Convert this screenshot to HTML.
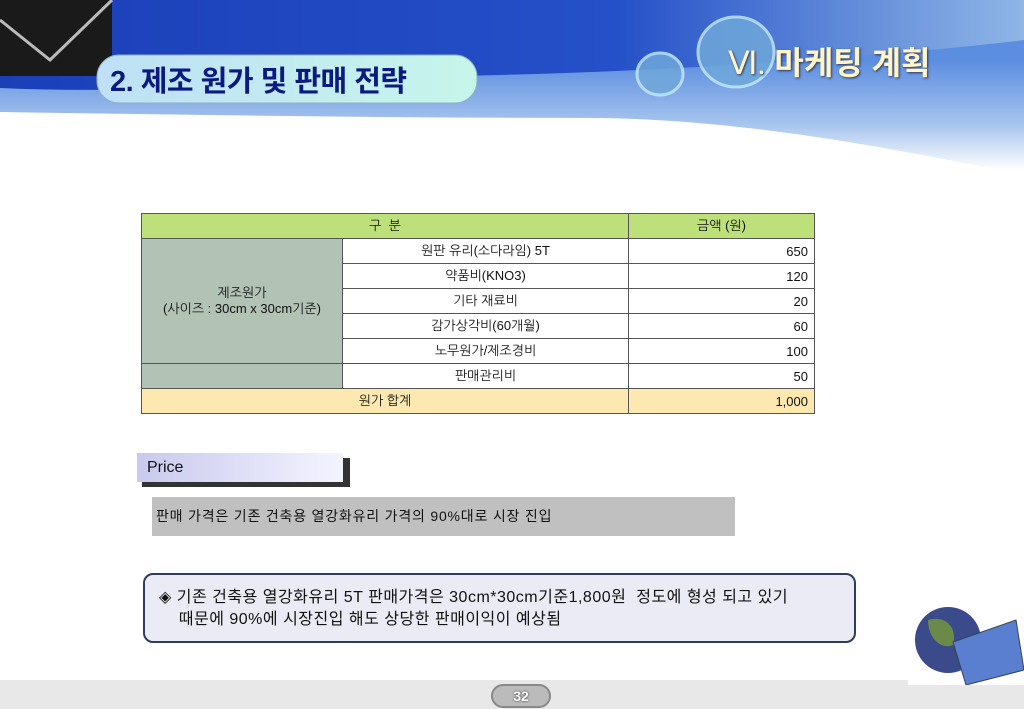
<!DOCTYPE html>
<html><head><meta charset="utf-8">
<style>
body{margin:0;width:1024px;height:709px;position:relative;overflow:hidden;background:#fff;font-family:"Liberation Sans","Noto Sans CJK KR",sans-serif}
.abs{position:absolute}
table{border-collapse:collapse;position:absolute;left:141px;top:213px;width:674px;font-size:13px;font-family:"Liberation Sans","NanumGothic","Noto Sans CJK KR",sans-serif}
td{border:1px solid #555;height:24px;padding:0 6px;text-align:center;color:#111}
td.n{text-align:right}
</style></head><body>
<svg class="abs" style="left:0;top:0" width="1024" height="200">
<defs>
<linearGradient id="g1" x1="0" y1="0" x2="1" y2="0"><stop offset="0" stop-color="#1c3fb8"/><stop offset="0.6" stop-color="#2450c8"/><stop offset="1" stop-color="#8fb6e6"/></linearGradient>
<linearGradient id="g2" gradientUnits="userSpaceOnUse" x1="0" y1="60" x2="0" y2="170"><stop offset="0" stop-color="#5b8de0"/><stop offset="0.6" stop-color="#a9c6ee"/><stop offset="1" stop-color="#ffffff"/></linearGradient>
<linearGradient id="g3" x1="0" y1="0" x2="1" y2="0"><stop offset="0" stop-color="#bfe0f6"/><stop offset="1" stop-color="#c6f6ea"/></linearGradient>
</defs>
<rect width="1024" height="200" fill="#fff"/>
<path d="M0 0H1024V175C900 150 750 120 600 118C400 118 200 115 0 112Z" fill="url(#g2)"/>
<path d="M0 0H1024V40C900 55 700 70 500 75C300 80 150 95 0 88Z" fill="url(#g1)"/>
<path d="M0 112C200 122 400 120 550 132C700 145 850 160 1024 178V200H0Z" fill="#fff"/>
<rect x="0" y="0" width="112" height="76" fill="#1a1a1a"/>
<path d="M0 20L50 60L112 0" stroke="#bbb" stroke-width="3" fill="none"/>
<ellipse cx="736" cy="52" rx="38" ry="35" fill="#6fa8da" stroke="#bfe6ff" stroke-width="3" opacity="0.85"/>
<ellipse cx="660" cy="74" rx="23" ry="21" fill="#6fa8da" stroke="#bfe6ff" stroke-width="3" opacity="0.85"/>
<rect x="97" y="55" width="380" height="48" rx="22" fill="url(#g3)" stroke="#8fb0c8"/>
</svg>
<div class="abs" style="left:110px;top:58px;font-size:29px;font-weight:bold;color:#0a1a80;letter-spacing:-0.5px">2. 제조 원가 및 판매 전략</div>
<div class="abs" style="left:728px;top:38px;font-size:32px;font-weight:bold;color:#fff6c8;text-shadow:1px 1px 2px #335"><span style="font-family:'Liberation Serif',serif;font-weight:normal">Ⅵ.</span> 마케팅 계획</div>

<table>
<tr style="background:#bde07a"><td colspan="2" style="width:474px">구 &nbsp;분</td><td style="width:173px">금액 (원)</td></tr>
<tr><td rowspan="5" style="background:#b2c2b4;width:188px">제조원가<br>(사이즈 : 30cm x 30cm기준)</td><td>원판 유리(소다라임) 5T</td><td class="n">650</td></tr>
<tr><td>약품비(KNO3)</td><td class="n">120</td></tr>
<tr><td>기타 재료비</td><td class="n">20</td></tr>
<tr><td>감가상각비(60개월)</td><td class="n">60</td></tr>
<tr><td>노무원가/제조경비</td><td class="n">100</td></tr>
<tr><td style="background:#b2c2b4"></td><td>판매관리비</td><td class="n">50</td></tr>
<tr style="background:#fde9b0"><td colspan="2">원가 합계</td><td class="n">1,000</td></tr>
</table>

<div class="abs" style="left:142px;top:458px;width:208px;height:29px;background:#333"></div>
<div class="abs" style="left:137px;top:453px;width:206px;height:29px;background:linear-gradient(90deg,#c9c9ee,#f4f4ff);font-size:16px;line-height:29px;padding-left:10px;box-sizing:border-box;color:#111">Price</div>
<div class="abs" style="left:152px;top:497px;width:583px;height:39px;background:#c0c0c0;font-size:14px;letter-spacing:0.8px;line-height:39px;padding-left:4px;box-sizing:border-box;color:#111">판매 가격은 기존 건축용 열강화유리 가격의 90%대로 시장 진입</div>
<div class="abs" style="left:143px;top:573px;width:713px;height:70px;box-sizing:border-box;border:2px solid #2f3d5c;border-radius:10px;background:#ebebf5;font-size:16px;letter-spacing:0.5px;line-height:22px;padding:12px 0 0 14px;color:#111;white-space:nowrap">◈ 기존 건축용 열강화유리 5T 판매가격은 30cm*30cm기준1,800원 &nbsp;정도에 형성 되고 있기<br>&nbsp;&nbsp;&nbsp; 때문에 90%에 시장진입 해도 상당한 판매이익이 예상됨</div>

<div class="abs" style="left:0;top:680px;width:1024px;height:29px;background:#e8e8e8"></div>
<svg class="abs" style="left:908px;top:600px" width="116" height="85">
<rect width="116" height="85" fill="#fff"/>
<circle cx="40" cy="40" r="33" fill="#3a4a8a"/><path d="M20 20C35 15 50 25 45 45C35 50 20 40 20 20Z" fill="#6b8a4a"/>
<polygon points="45,42 108,20 116,70 58,85" fill="#5a7fd0" stroke="#345" /></svg>
<div class="abs" style="left:491px;top:684px;width:60px;height:24px;border-radius:12px;background:#bbb;border:2px solid #888;box-sizing:border-box;text-align:center;font-size:14px;line-height:20px;color:#fff;font-weight:bold;text-shadow:0 0 2px #333">32</div>
</body></html>
